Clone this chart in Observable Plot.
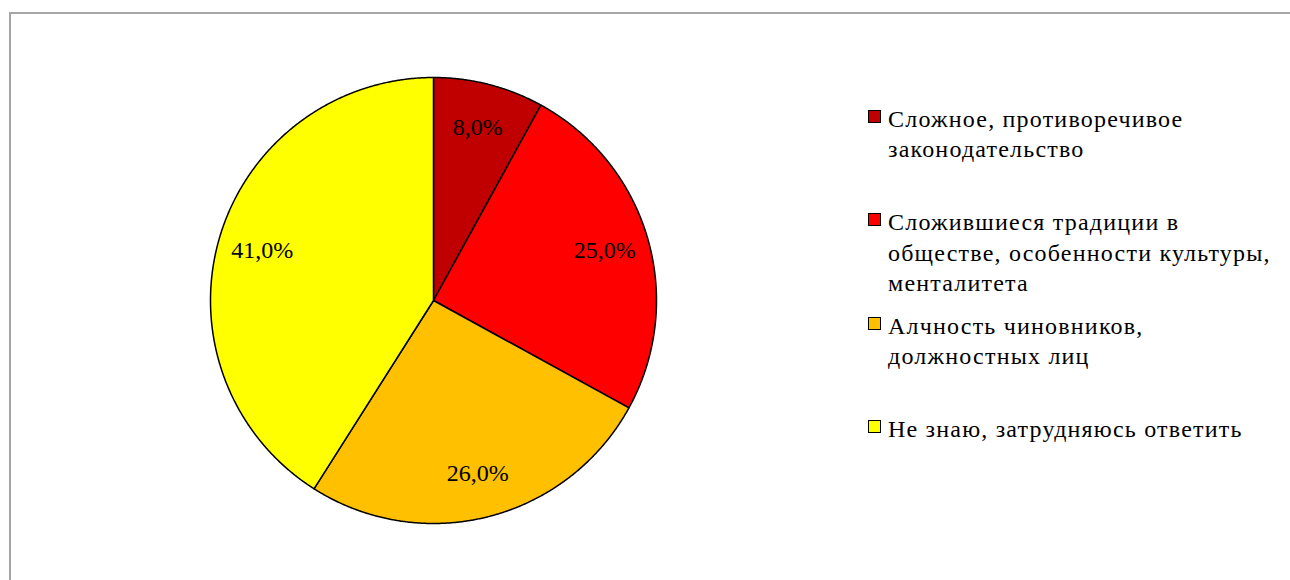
<!DOCTYPE html>
<html><head><meta charset="utf-8">
<script src="https://cdn.jsdelivr.net/npm/d3@7"></script>
<script src="https://cdn.jsdelivr.net/npm/@observablehq/plot@0.6"></script>
<style>
html,body{margin:0;padding:0;background:#fff;overflow:hidden}
#wrap{position:relative;width:1290px;height:580px;overflow:hidden}
#frame{position:absolute;left:9px;top:12px;width:1300px;height:600px;border-left:2px solid #a6a6a6;border-top:2px solid #a6a6a6;box-sizing:border-box}
#chart{position:absolute;left:0;top:0}
#legend{position:absolute;left:868px;top:103.65px;font-family:"Liberation Serif","Times New Roman",serif;font-size:24px;letter-spacing:1.2px;line-height:30.5px;color:#000;white-space:pre-line}
.item{height:103.5px;display:flex;align-items:flex-start}
.sw{width:11px;height:11px;border:1px solid #000;margin-top:6.3px;margin-right:7px;flex:none}
</style></head>
<body>
<div id="wrap"><div id="frame"></div><div id="chart"></div><div id="legend"></div></div>
<script>
const categories = [
  "Сложное, противоречивое\nзаконодательство",
  "Сложившиеся традиции в\nобществе, особенности культуры,\nменталитета",
  "Алчность чиновников,\nдолжностных лиц",
  "Не знаю, затрудняюсь ответить"
];
const values = [8.0, 25.0, 26.0, 41.0];
const colors = ["#C00000", "#FF0000", "#FFC000", "#FFFF00"];

const arcs = d3.pie().sort(null).value(d => d)(values);
const slices = [];
arcs.forEach((a, i) => {
  const n = Math.max(2, Math.ceil((a.endAngle - a.startAngle) / 0.005));
  slices.push({i, x: 0, y: 0});
  for (let k = 0; k <= n; k++) {
    const t = a.startAngle + (a.endAngle - a.startAngle) * k / n;
    slices.push({i, x: Math.sin(t), y: Math.cos(t)});
  }
  slices.push({i, x: 0, y: 0});
});
const labels = arcs.map((a, i) => {
  const m = (a.startAngle + a.endAngle) / 2;
  return {x: 0.8 * Math.sin(m), y: 0.8 * Math.cos(m), text: values[i].toFixed(1).replace(".", ",") + "%"};
});

const plot = Plot.plot({
  width: 1290, height: 580,
  marginTop: 0, marginBottom: 0, marginLeft: 0, marginRight: 0,
  x: {domain: [-1, 1], range: [210, 656], axis: null},
  y: {domain: [-1, 1], range: [523, 77], axis: null},
  color: {type: "ordinal", domain: [0, 1, 2, 3], range: colors},
  style: {background: "transparent", fontFamily: "'Liberation Serif', 'Times New Roman', serif"},
  marks: [
    Plot.line(slices, {x: "x", y: "y", z: "i", fill: "i", stroke: "black", strokeWidth: 1.5, curve: "linear", strokeLinejoin: "round"}),
    Plot.text(labels, {x: "x", y: "y", text: "text", fontSize: 24, fill: "black"})
  ]
});
document.getElementById("chart").appendChild(plot);

const legend = d3.select("#legend");
categories.forEach((c, i) => {
  const it = legend.append("div").attr("class", "item");
  it.append("div").attr("class", "sw").style("background", colors[i]);
  it.append("span").text(c);
});
</script>
</body></html>
